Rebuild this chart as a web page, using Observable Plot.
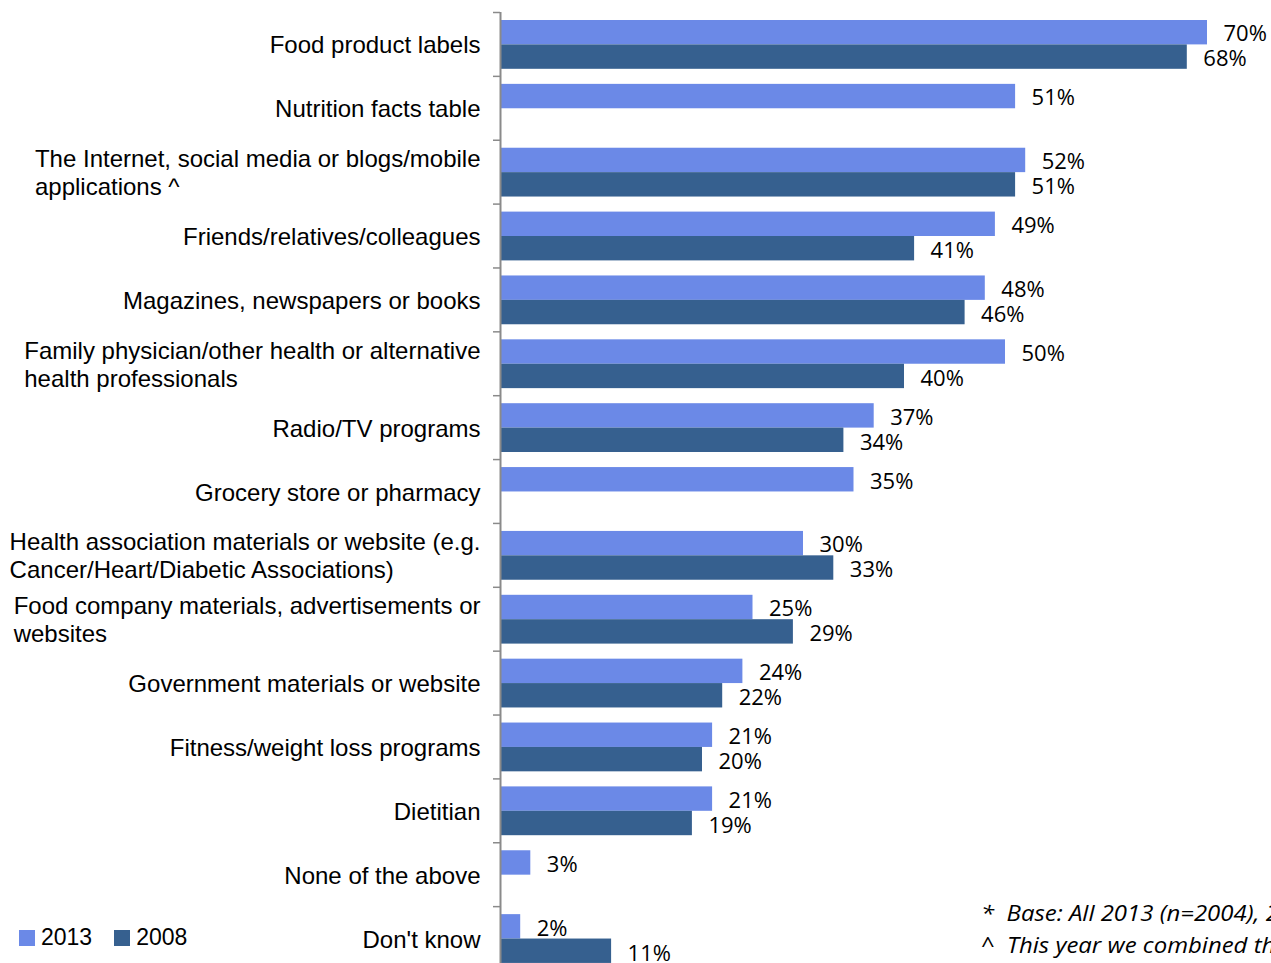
<!DOCTYPE html>
<html>
<head>
<meta charset="utf-8">
<script src="https://cdn.jsdelivr.net/npm/d3@7"></script>
<script src="https://cdn.jsdelivr.net/npm/@observablehq/plot@0.6"></script>
<style>
  html, body { margin: 0; padding: 0; background: #fff; overflow: hidden; }
  #wrap { position: relative; width: 1271px; height: 963px; }
  #legend { position: absolute; left: 19px; top: 924px; font-family: "Liberation Sans", Arial, sans-serif; font-size: 23px; color: #000; display: flex; align-items: center; }
  #legend .sw { display: inline-block; width: 16px; height: 16px; margin-right: 6px; }
  #legend .item { display: flex; align-items: center; margin-right: 22px; }
  #note { position: absolute; left: 981px; top: 897px; font-family: "Open Sans", sans-serif; font-style: italic; font-size: 21px; line-height: 32px; color: #000; white-space: pre; transform: scaleX(1.14); transform-origin: 0 0; }
</style>
</head>
<body>
<div id="wrap"></div>
<script>
const categories = [
  "Food product labels",
  "Nutrition facts table",
  "The Internet, social media or blogs/mobile applications ^",
  "Friends/relatives/colleagues",
  "Magazines, newspapers or books",
  "Family physician/other health or alternative health professionals",
  "Radio/TV programs",
  "Grocery store or pharmacy",
  "Health association materials or website (e.g. Cancer/Heart/Diabetic Associations)",
  "Food company materials, advertisements or websites",
  "Government materials or website",
  "Fitness/weight loss programs",
  "Dietitian",
  "None of the above",
  "Don't know"
];
const categoryLabels = [
  "Food product labels",
  "Nutrition facts table",
  "The Internet, social media or blogs/mobile\napplications ^",
  "Friends/relatives/colleagues",
  "Magazines, newspapers or books",
  "Family physician/other health or alternative\nhealth professionals",
  "Radio/TV programs",
  "Grocery store or pharmacy",
  "Health association materials or website (e.g.\nCancer/Heart/Diabetic Associations)",
  "Food company materials, advertisements or\nwebsites",
  "Government materials or website",
  "Fitness/weight loss programs",
  "Dietitian",
  "None of the above",
  "Don't know"
];
const series = ["2013", "2008"];
const values2013 = [70, 51, 52, 49, 48, 50, 37, 35, 30, 25, 24, 21, 21, 3, 2];
const values2008 = [68, null, 51, 41, 46, 40, 34, null, 33, 29, 22, 20, 19, null, 11];
const colors = {"2013": "#6b89e7", "2008": "#36608f"};
const notes = ["*  Base: All 2013 (n=2004), 2008 (n=2000)", "^  This year we combined these sources"];

const rows2013 = categories.map((c, i) => ({category: c, value: values2013[i]})).filter(d => d.value != null);
const rows2008 = categories.map((c, i) => ({category: c, value: values2008[i]})).filter(d => d.value != null);

const W = 1271, H = 963;
const yRange = [12, 970];
const bw = (yRange[1] - yRange[0]) / categories.length;

const chart = Plot.plot({
  width: W,
  height: H,
  marginLeft: 500,
  marginRight: 64,
  marginTop: 12,
  marginBottom: 0,
  style: {fontFamily: "'Liberation Sans', Arial, sans-serif", fontSize: "24px", background: "#fff", overflow: "hidden"},
  x: {domain: [0, 70], axis: null},
  y: {domain: categories, range: yRange, padding: 0, round: false, axis: null},
  marks: [
    Plot.barX(rows2013, {x: "value", y: "category", fill: colors["2013"], insetTop: 8, insetBottom: bw - 8 - 24.4}),
    Plot.barX(rows2008, {x: "value", y: "category", fill: colors["2008"], insetTop: 8 + 24.4, insetBottom: bw - 8 - 48.8}),
    Plot.ruleX([0], {stroke: "#8a8a8a", strokeWidth: 2}),
    Plot.axisY({tickSize: 7, tickFormat: () => "", dy: -bw / 2, stroke: "#8a8a8a", strokeWidth: 1.5, label: null}),
    Plot.text(categories, {y: d => d, frameAnchor: "left", textAnchor: "end", dx: -20, text: (d, i) => categoryLabels[i], lineHeight: 1.17, fill: "#000"}),
    Plot.text(rows2013, {x: "value", y: "category", text: d => d.value + "%", textAnchor: "start", dx: 16, dy: -10, fontFamily: "'Open Sans', sans-serif", fontSize: 22, fill: "#000"}),
    Plot.text(rows2008, {x: "value", y: "category", text: d => d.value + "%", textAnchor: "start", dx: 16, dy: 15, fontFamily: "'Open Sans', sans-serif", fontSize: 22, fill: "#000"})
  ]
});

const wrap = document.getElementById("wrap");
wrap.append(chart);

// left-align multi-line category labels as a right-aligned block
chart.querySelectorAll("text").forEach(t => {
  const spans = t.querySelectorAll("tspan");
  if (spans.length > 1) {
    let maxW = 0;
    spans.forEach(s => { maxW = Math.max(maxW, s.getComputedTextLength()); });
    t.setAttribute("text-anchor", "start");
    t.style.textAnchor = "start";
    spans.forEach(s => s.setAttribute("x", -maxW));
  }
});

// legend
const legend = document.createElement("div");
legend.id = "legend";
series.forEach(s => {
  const item = document.createElement("span");
  item.className = "item";
  const sw = document.createElement("span");
  sw.className = "sw";
  sw.style.background = colors[s];
  item.append(sw, document.createTextNode(s));
  legend.append(item);
});
wrap.append(legend);

// footnote
const note = document.createElement("div");
note.id = "note";
note.textContent = notes.join("\n");
wrap.append(note);
</script>
</body>
</html>
